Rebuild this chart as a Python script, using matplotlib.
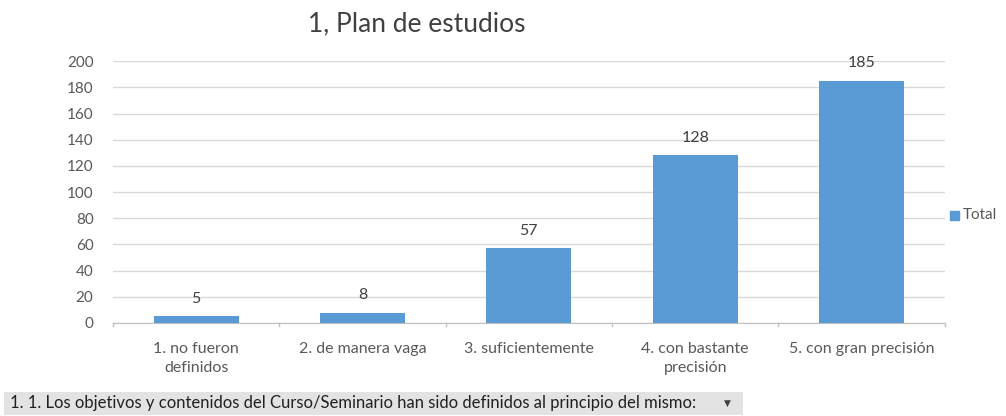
import numpy as np
import matplotlib.pyplot as plt
from matplotlib.patches import Rectangle

plt.rcParams['font.family'] = ['Lato', 'DejaVu Sans']

categorias = ["1. no fueron\ndefinidos", "2. de manera vaga", "3. suficientemente",
              "4. con bastante\nprecisión", "5. con gran precisión"]
totales = [5, 8, 57, 128, 185]
yticks = list(range(0, 201, 20))

gris = '#595959'
azul = '#5B9BD5'

fig = plt.figure(figsize=(10.06, 4.16), dpi=100)
ax = fig.add_axes([0.1123, 0.2236, 0.8267, 0.6294])

x = np.arange(len(categorias))
barras = ax.bar(x, totales, width=0.51, color=azul, zorder=3, label='Total')
for xi, v in zip(x, totales):
    ax.text(xi, v + 8, str(v), ha='center', va='bottom', fontsize=11.5, color='#404040')

ax.set_xlim(-0.5, len(categorias) - 0.5)
ax.set_ylim(0, 200)
ax.set_yticks(yticks)
ax.set_yticklabels([str(t) for t in yticks], fontsize=11, color=gris)
ax.set_xticks(x)
ax.set_xticklabels(categorias, fontsize=11.5, color=gris, linespacing=1.45)
ax.tick_params(axis='y', length=0, pad=14)
ax.tick_params(axis='x', length=0, pad=14)
# marcas en los límites de categoría
for b in np.arange(-0.5, len(categorias), 1.0):
    ax.plot([b, b], [0, -2.5], color='#BFBFBF', lw=1, clip_on=False, zorder=2)

ax.grid(axis='y', color='#D9D9D9', lw=1, zorder=0)
for s in ['top', 'right', 'left']:
    ax.spines[s].set_visible(False)
ax.spines['bottom'].set_color('#BFBFBF')

fig.text(417 / 1006, 1 - 24 / 416, "1, Plan de estudios", ha='center', va='center',
         fontsize=19, color='#404040')

# leyenda
fig.patches.append(Rectangle((950 / 1006, 1 - 220 / 416), 9 / 1006, 9 / 416,
                             transform=fig.transFigure, color=azul))
fig.text(963 / 1006, 1 - 215 / 416, "Total", ha='left', va='center', fontsize=11, color=gris)

# botón de campo
fig.patches.append(Rectangle((4 / 1006, 1 - 415 / 416), 739 / 1006, 23 / 416,
                             transform=fig.transFigure, facecolor='#E3E3E3',
                             edgecolor='none'))
fig.text(10 / 1006, 1 - 403 / 416,
         "1. 1. Los objetivos y contenidos del Curso/Seminario han sido definidos al principio del mismo:",
         ha='left', va='center', fontsize=12, color='#202020')
fig.text(727 / 1006, 1 - 403 / 416, "▼", ha='center', va='center', fontsize=6.5,
         color='#404040', family='DejaVu Sans')

fig.savefig('out.png', dpi=100)
